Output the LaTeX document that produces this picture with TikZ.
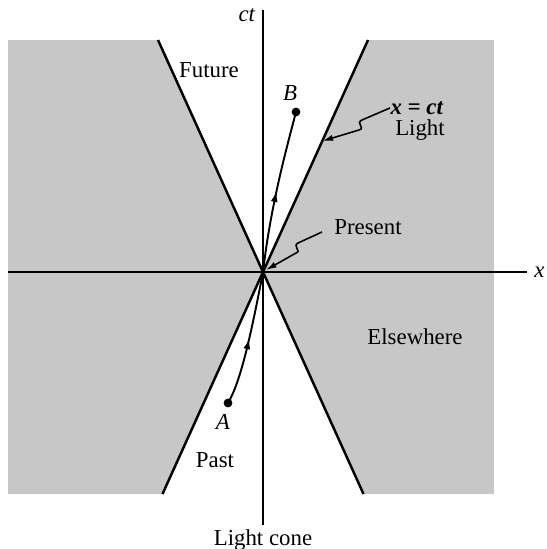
\documentclass[tikz,border=0pt]{standalone}
\usepackage{fontspec}
\setmainfont{Liberation Serif}
\usetikzlibrary{arrows.meta,decorations.markings}

\begin{document}
\begin{tikzpicture}[>=stealth,line width=0.6pt,font=\fontsize{13}{15}\selectfont,
  cone/.style={line width=1.4pt},
  axis/.style={line width=0.7pt},
  wline/.style={line width=1.1pt,postaction={decorate},
    decoration={markings,mark=at position 0.5 with {\arrow{Latex[length=6pt,width=4pt]}}}},
  pointer/.style={line width=0.9pt,-{Latex[length=6pt,width=3.5pt]}}]
  \useasboundingbox (-5.26,-5.54) rectangle (5.66,5.44);
  \coordinate (O) at (0,0);
  \coordinate (FL) at (-2.10,4.64);
  \coordinate (FR) at (2.10,4.64);
  \coordinate (PL) at (-2.01,-4.44);
  \coordinate (PR) at (2.01,-4.44);
  \coordinate (A) at (-0.70,-2.62);
  \coordinate (B) at (0.66,3.20);

  \coordinate (L1) at (2.54,3.28);
  \coordinate (L2) at (1.98,3.04);
  \coordinate (L3) at (1.92,2.84);
  \coordinate (L4) at (1.19,2.62);
  \coordinate (P1) at (1.18,0.80);
  \coordinate (P2) at (0.70,0.58);
  \coordinate (P3) at (0.66,0.38);
  \coordinate (P4) at (0.06,0.04);

  % elsewhere, shaded
  \fill[black!22] (-5.10,-4.44) rectangle (4.62,4.64);
  \fill[white] (O) -- (FL) -- (FR) -- cycle;
  \fill[white] (O) -- (PL) -- (PR) -- cycle;

  % axes
  \draw[axis] (-5.10,0) -- (5.28,0);
  \draw[axis] (0,-5.06) -- (0,5.24);

  % light cone
  \draw[cone] (FL) -- (PR);
  \draw[cone] (FR) -- (PL);

  % world lines
  \draw[wline] (O) .. controls (0.15,1.3) and (0.45,2.4) .. (B);
  \draw[wline] (A) .. controls (-0.45,-2.2) and (-0.25,-1.3) .. (O);
  \fill (A) circle (2.5pt);
  \fill (B) circle (2.5pt);

  % pointers
  \draw[pointer] (L1) -- (L2) .. controls (1.84,2.98) and (2.06,2.88) .. (L3) -- (L4);
  \draw[pointer] (P1) -- (P2) .. controls (0.58,0.52) and (0.78,0.42) .. (P3) -- (P4);

  % labels
  \node (ctlab) at (-0.32,5.14) {\textit{ct}};
  \node[right] (xlab) at (5.30,0) {\textit{x}};
  \node (future) at (-1.08,4.04) {Future};
  \node (past) at (-0.96,-3.76) {Past};
  \node (elsewhere) at (3.04,-1.30) {Elsewhere};
  \node (Blab) at (0.54,3.58) {\textit{B}};
  \node (Alab) at (-0.80,-3.00) {\textit{A}};
  \node (xct) at (3.08,3.28) {\textbf{\textit{x = ct}}};
  \node (light) at (3.14,2.84) {Light};
  \node (present) at (2.10,0.90) {Present};
  \node (lightcone) at (0,-5.36) {Light cone};
\end{tikzpicture}
\end{document}
